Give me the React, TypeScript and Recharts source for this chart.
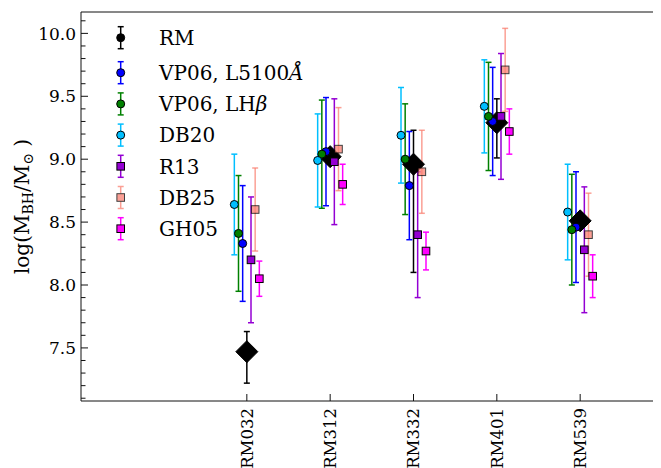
import React from "react";
import {
  ScatterChart,
  Scatter,
  XAxis,
  YAxis,
  ErrorBar,
  ReferenceLine,
  Legend,
} from "recharts";

// ---------- data ----------
const CATEGORIES = ["RM032", "RM312", "RM332", "RM401", "RM539"];

const RM_VALUES = [7.47, 9.02, 8.96, 9.29, 8.51];
const RM_ERR_LOW = [0.25, 0.06, 0.86, 0.28, 0.06];
const RM_ERR_HIGH = [0.16, 0.06, 0.27, 0.19, 0.06];

const VP06_L5100_VALUES = [8.33, 9.06, 8.79, 9.3, 8.46];
const VP06_L5100_ERR = [0.46, 0.43, 0.43, 0.43, 0.44];

const VP06_LHB_VALUES = [8.41, 9.04, 9.0, 9.34, 8.44];
const VP06_LHB_ERR = [0.46, 0.43, 0.44, 0.43, 0.44];

const DB20_VALUES = [8.64, 8.99, 9.19, 9.42, 8.58];
const DB20_ERR = [0.4, 0.37, 0.38, 0.37, 0.38];

const R13_VALUES = [8.2, 8.98, 8.4, 9.34, 8.28];
const R13_ERR = [0.5, 0.5, 0.5, 0.5, 0.5];

const DB25_VALUES = [8.6, 9.08, 8.9, 9.71, 8.4];
const DB25_ERR = [0.33, 0.33, 0.33, 0.33, 0.33];

const GH05_VALUES = [8.05, 8.8, 8.27, 9.22, 8.07];
const GH05_ERR = [0.14, 0.16, 0.15, 0.18, 0.17];

const Y_MAJOR_TICKS = [7.5, 8.0, 8.5, 9.0, 9.5, 10.0];
const Y_DOMAIN: [number, number] = [7.078, 10.17];
const X_DOMAIN: [number, number] = [-1.99, 4.97];

// ---------- styling ----------
const FONT = "DejaVu Serif";
const AXIS_COLOR = "#111";

type SeriesCfg = {
  key: string;
  label: string;
  italic?: string;
  color: string;
  shape: "circle" | "square" | "diamond";
  offset: number;
  opacity: number;
  values: number[];
  err: (i: number) => number | [number, number];
};

const SERIES: SeriesCfg[] = [
  {
    key: "RM",
    label: "RM",
    color: "#000000",
    shape: "diamond",
    offset: 0,
    opacity: 1,
    values: RM_VALUES,
    err: (i) => [RM_ERR_LOW[i], RM_ERR_HIGH[i]],
  },
  {
    key: "VP06L",
    label: "VP06, L5100",
    italic: "Å",
    color: "#0000ff",
    shape: "circle",
    offset: -0.05,
    opacity: 1,
    values: VP06_L5100_VALUES,
    err: (i) => VP06_L5100_ERR[i],
  },
  {
    key: "VP06H",
    label: "VP06, LH",
    italic: "β",
    color: "#008000",
    shape: "circle",
    offset: -0.1,
    opacity: 1,
    values: VP06_LHB_VALUES,
    err: (i) => VP06_LHB_ERR[i],
  },
  {
    key: "DB20",
    label: "DB20",
    color: "#00bfff",
    shape: "circle",
    offset: -0.15,
    opacity: 1,
    values: DB20_VALUES,
    err: (i) => DB20_ERR[i],
  },
  {
    key: "R13",
    label: "R13",
    color: "#9400d3",
    shape: "square",
    offset: 0.05,
    opacity: 1,
    values: R13_VALUES,
    err: (i) => R13_ERR[i],
  },
  {
    key: "DB25",
    label: "DB25",
    color: "#fa8072",
    shape: "square",
    offset: 0.1,
    opacity: 0.75,
    values: DB25_VALUES,
    err: (i) => DB25_ERR[i],
  },
  {
    key: "GH05",
    label: "GH05",
    color: "#ff00ff",
    shape: "square",
    offset: 0.15,
    opacity: 1,
    values: GH05_VALUES,
    err: (i) => GH05_ERR[i],
  },
];

const buildData = (s: SeriesCfg) =>
  CATEGORIES.map((c, i) => ({
    name: c,
    x: i + s.offset,
    y: s.values[i],
    err: s.err(i),
  }));

const makeShape = (s: SeriesCfg) => (p: any) => {
  const { cx, cy } = p;
  if (cx == null || cy == null) return <g />;
  if (s.shape === "diamond") {
    const r = 11;
    return (
      <polygon
        points={`${cx},${cy - r} ${cx + r},${cy} ${cx},${cy + r} ${cx - r},${cy}`}
        fill="#000"
        stroke="#000"
        strokeWidth={1}
      />
    );
  }
  if (s.shape === "square") {
    const h = 3.8;
    return (
      <rect
        x={cx - h}
        y={cy - h}
        width={2 * h}
        height={2 * h}
        fill={s.color}
        stroke="#000"
        strokeWidth={1}
        opacity={s.opacity}
      />
    );
  }
  return (
    <circle
      cx={cx}
      cy={cy}
      r={4}
      fill={s.color}
      stroke="#000"
      strokeWidth={1}
      opacity={s.opacity}
    />
  );
};

const LegendMarker = ({ s, x, y }: { s: SeriesCfg; x: number; y: number }) => {
  const hh = 11;
  const cap = 3;
  return (
    <g opacity={s.opacity}>
      <line x1={x} x2={x} y1={y - hh} y2={y + hh} stroke={s.color} strokeWidth={1.5} />
      <line x1={x - cap} x2={x + cap} y1={y - hh} y2={y - hh} stroke={s.color} strokeWidth={1.5} />
      <line x1={x - cap} x2={x + cap} y1={y + hh} y2={y + hh} stroke={s.color} strokeWidth={1.5} />
      {s.shape === "square" ? (
        <rect x={x - 3.8} y={y - 3.8} width={7.6} height={7.6} fill={s.color} stroke="#000" strokeWidth={1} />
      ) : (
        <circle cx={x} cy={y} r={4} fill={s.color} stroke="#000" strokeWidth={1} />
      )}
    </g>
  );
};

const LegendContent = () => {
  const rowY = (i: number) => (i === 0 ? 17.7 : 52.7 + (i - 1) * 31.2);
  return (
    <svg width={230} height={230} style={{ display: "block", overflow: "visible" }}>
      {SERIES.map((s, i) => (
        <g key={s.key}>
          <LegendMarker s={s} x={30.7} y={rowY(i)} />
          <text
            x={69}
            y={rowY(i)}
            dy="0.36em"
            fontFamily={FONT}
            fontSize={20}
            fill="#000"
          >
            {s.label}
            {s.italic ? <tspan fontStyle="italic">{s.italic}</tspan> : null}
          </text>
        </g>
      ))}
    </svg>
  );
};

const YTick = (props: any) => {
  const { x, y, payload } = props;
  const v = payload.value as number;
  const major = Y_MAJOR_TICKS.some((m) => Math.abs(m - v) < 1e-6);
  const ax = x + 5;
  return (
    <g>
      <line x1={ax} x2={ax + (major ? 7 : 4.5)} y1={y} y2={y} stroke={AXIS_COLOR} strokeWidth={1} />
      {major ? (
        <text
          x={x}
          y={y}
          dy="0.36em"
          textAnchor="end"
          fontFamily={FONT}
          fontSize={17}
          fill="#000"
        >
          {v.toFixed(1)}
        </text>
      ) : null}
    </g>
  );
};

const XTick = (props: any) => {
  const { x, y, payload } = props;
  const idx = Math.round(payload.value as number);
  const ay = y - 7;
  return (
    <g>
      <line x1={x} x2={x} y1={ay} y2={ay - 7} stroke={AXIS_COLOR} strokeWidth={1} />
      <text
        x={x}
        y={y}
        dy="0.36em"
        textAnchor="end"
        transform={`rotate(-90, ${x}, ${y})`}
        fontFamily={FONT}
        fontSize={16.5}
        fill="#000"
      >
        {CATEGORIES[idx]}
      </text>
    </g>
  );
};

const YLabel = (props: any) => {
  const vb = props.viewBox || { x: 0, y: 0, width: 73, height: 389 };
  const cx = vb.x + 14;
  const cy = vb.y + vb.height / 2;
  return (
    <text
      x={cx}
      y={cy}
      dy="0.36em"
      textAnchor="middle"
      transform={`rotate(-90, ${cx}, ${cy})`}
      fontFamily={FONT}
      fontSize={20}
      fill="#000"
    >
      log(M
      <tspan fontSize={14} dy={4}>BH</tspan>
      <tspan dy={-4}>/M</tspan>
      <tspan fontSize={14} dy={4}>⊙</tspan>
      <tspan dy={-4}> )</tspan>
    </text>
  );
};

// minor tick positions every 0.1
const Y_ALL_TICKS: number[] = [];
for (let k = 71; k <= 101; k++) Y_ALL_TICKS.push(Math.round(k) / 10);

export default function App() {
  return (
    <ScatterChart
      width={653}
      height={460}
      margin={{ top: 4, right: 0, bottom: 0, left: 0 }}
    >
      <XAxis
        type="number"
        dataKey="x"
        domain={X_DOMAIN}
        allowDataOverflow
        ticks={[0, 1, 2, 3, 4]}
        interval={0}
        tick={<XTick />}
        tickLine={false}
        tickSize={0}
        tickMargin={7}
        height={67}
        axisLine={{ stroke: AXIS_COLOR, strokeWidth: 1 }}
      />
      <YAxis
        type="number"
        dataKey="y"
        domain={Y_DOMAIN}
        allowDataOverflow
        ticks={Y_ALL_TICKS}
        interval={0}
        tick={<YTick />}
        tickLine={false}
        tickSize={0}
        tickMargin={5}
        width={73}
        axisLine={{ stroke: AXIS_COLOR, strokeWidth: 1 }}
        label={<YLabel />}
      />
      <ReferenceLine y={Y_DOMAIN[1]} stroke={AXIS_COLOR} strokeWidth={1} ifOverflow="visible" />
      {SERIES.map((s) => (
        <Scatter
          key={s.key}
          name={s.key}
          data={buildData(s)}
          fill={s.color}
          shape={makeShape(s)}
          isAnimationActive={false}
        >
          <ErrorBar
            dataKey="err"
            direction="y"
            width={3}
            stroke={s.color}
            strokeWidth={1.5}
            strokeOpacity={s.opacity}
            isAnimationActive={false}
          />
        </Scatter>
      ))}
      <Legend
        layout="vertical"
        align="center"
        verticalAlign="middle"
        content={<LegendContent />}
        wrapperStyle={{ position: "absolute", left: 82, top: 12, width: 230, height: 230 }}
      />
    </ScatterChart>
  );
}
